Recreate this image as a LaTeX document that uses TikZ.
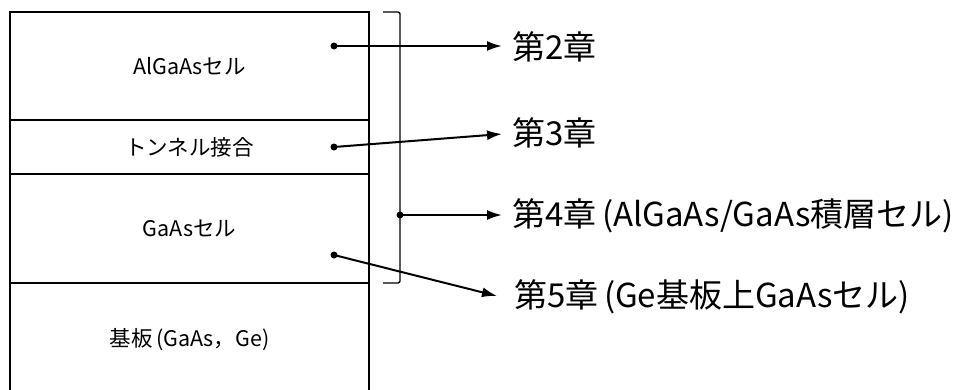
\documentclass[tikz,border=0pt]{standalone}
\usepackage{fontspec}
\setmainfont{Noto Sans CJK JP}
\usetikzlibrary{arrows.meta}
\begin{document}
\begin{tikzpicture}[x=1pt,y=-1pt,
  layer/.style={draw, line width=1.8pt, minimum width=359pt, inner sep=0pt, outer sep=0pt, anchor=north west, font=\fontsize{21.5}{21.5}\selectfont},
  chap/.style={anchor=west, inner sep=0pt, font=\fontsize{33}{33}\selectfont},
  conn/.style={line width=2pt, -{Latex[length=15pt,width=10pt]}},
  dotc/.style={circle, fill, inner sep=0pt, minimum size=7pt},
  brk/.style={line width=1.3pt, rounded corners=2pt}]
\useasboundingbox (0,0) rectangle (965,389);
\clip (0,0) rectangle (965,389);
% layers
\node[layer, minimum height=108pt] (al) at (10,12) {AlGaAsセル};
\node[layer, minimum height=54pt] (tun) at (al.south west) {トンネル接合};
\node[layer, minimum height=109pt] (ga) at (tun.south west) {GaAsセル};
\node[layer, minimum height=114pt] (sub) at (ga.south west) {基板\,(GaAs，Ge)};
% bracket
\coordinate (bt) at (383,12);
\coordinate (bb) at (383,283);
\draw[brk] (bt) -- (400,12) -- (400,283) -- (bb);
% dots
\node[dotc] (d2) at (334,46) {};
\node[dotc] (d3) at (334,147) {};
\node[dotc] (d4) at (400,215) {};
\node[dotc] (d5) at (334,255) {};
% chapter labels
\node[chap] (c2) at (512,47) {第2章};
\node[chap] (c3) at (512,133) {第3章};
\node[chap] (c4) at (512,216) {第4章\,(AlGaAs/GaAs積層セル)};
\node[chap] (c5) at (514,297) {第5章\,(Ge基板上GaAsセル)};
% arrow tips
\coordinate (t2) at (502,46);
\coordinate (t3) at (502,134);
\coordinate (t4) at (502,215);
\coordinate (t5) at (497,296);
\draw[conn] (d2.center) -- (t2);
\draw[conn] (d3.center) -- (t3);
\draw[conn] (d4.center) -- (t4);
\draw[conn] (d5.center) -- (t5);
\end{tikzpicture}
\end{document}
